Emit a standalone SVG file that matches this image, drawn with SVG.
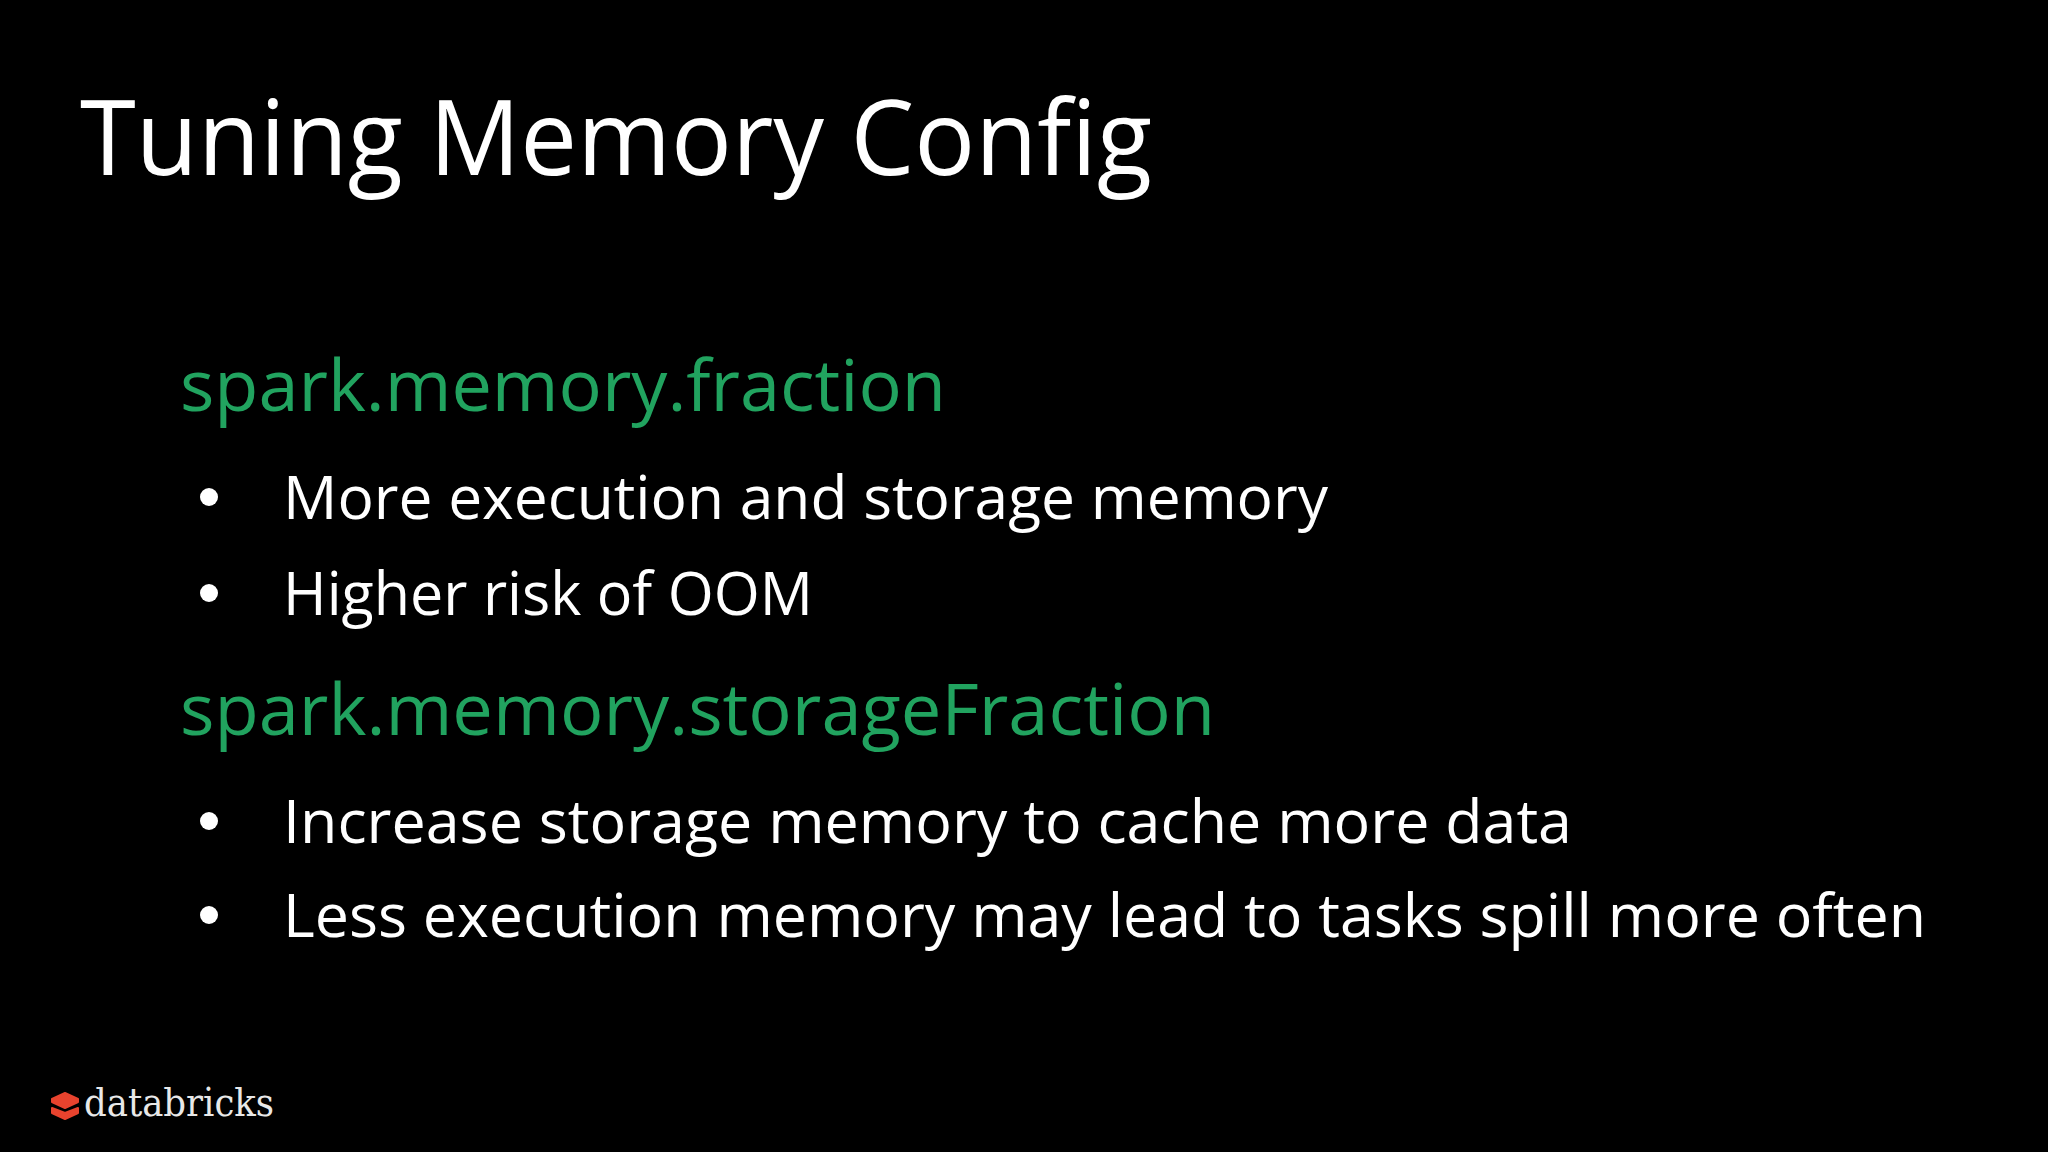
<svg xmlns="http://www.w3.org/2000/svg" width="2048" height="1152" viewBox="0 0 2048 1152">
<style>
text{font-family:"Open Sans","Noto Sans","Liberation Sans",sans-serif}
.t{fill:#fff;font-size:105px}
.h{fill:#21a35f;font-size:72px}
.b{fill:#fff;font-size:60px}
.d{fill:#fff}
.r{fill:#e8432e;stroke:#e8432e;stroke-width:2;stroke-linejoin:round}
</style>
<rect width="2048" height="1152" fill="#000"/>
<text class="t" x="80" y="175" textLength="1072" lengthAdjust="spacingAndGlyphs">Tuning Memory Config</text>
<text class="h" x="180" y="411" textLength="766" lengthAdjust="spacingAndGlyphs">spark.memory.fraction</text>
<circle class="d" cx="209" cy="497" r="9"/>
<text class="b" x="283" y="519" textLength="1045" lengthAdjust="spacingAndGlyphs">More execution and storage memory</text>
<circle class="d" cx="209" cy="593" r="9"/>
<text class="b" x="283" y="615" textLength="530" lengthAdjust="spacingAndGlyphs">Higher risk of OOM</text>
<text class="h" x="180" y="735" textLength="1035" lengthAdjust="spacingAndGlyphs">spark.memory.storageFraction</text>
<circle class="d" cx="209" cy="821" r="9"/>
<text class="b" x="283" y="843" textLength="1289" lengthAdjust="spacingAndGlyphs">Increase storage memory to cache more data</text>
<circle class="d" cx="209" cy="915" r="9"/>
<text class="b" x="283" y="937" textLength="1643" lengthAdjust="spacingAndGlyphs">Less execution memory may lead to tasks spill more often</text>
<g id="logo">
<path class="r" d="M52 1099L65 1093L78 1099V1102L65 1108L52 1102Z"/>
<path class="r" d="M52 1108L65 1113L78 1108V1113L65 1119L52 1113Z"/>
<text x="84" y="1116" font-size="40" fill="#e8e8e8" textLength="190" lengthAdjust="spacingAndGlyphs" style="font-family:'DejaVu Serif','Liberation Serif',serif">databricks</text>
</g>
</svg>
